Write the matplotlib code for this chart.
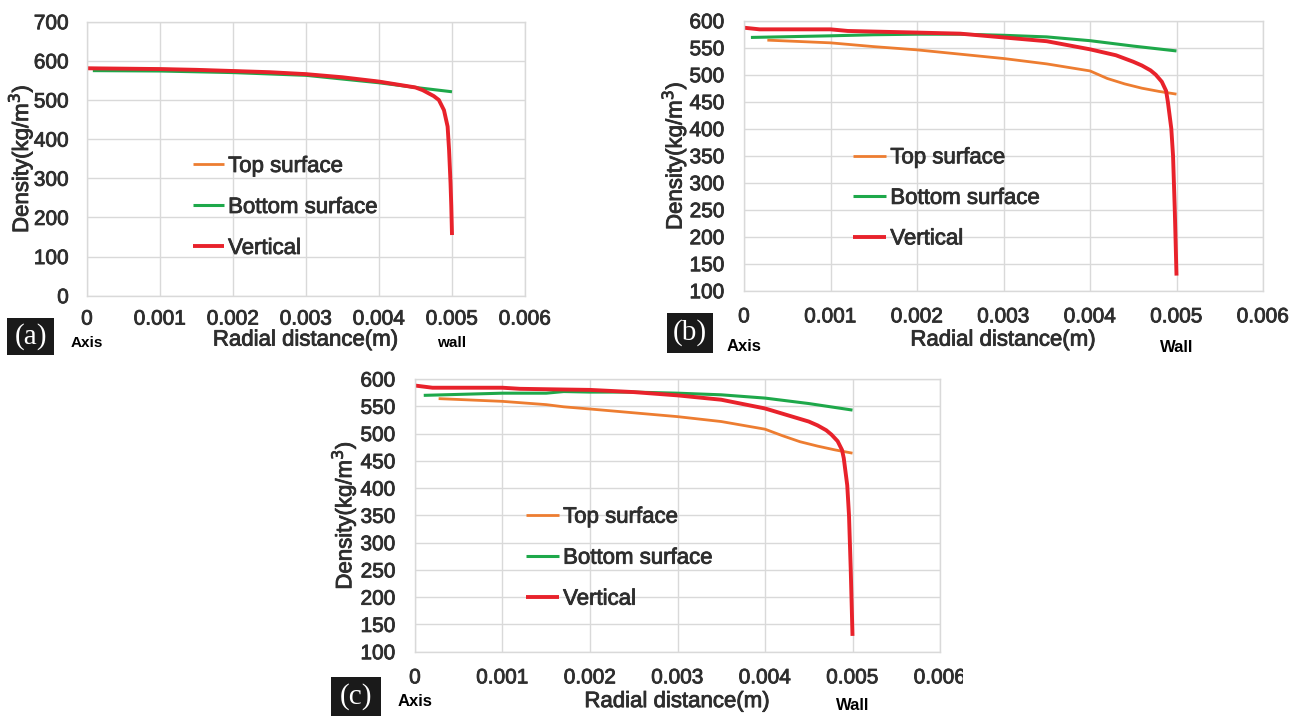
import matplotlib
matplotlib.use("Agg")
import matplotlib.pyplot as plt
import matplotlib.patheffects as pe
from matplotlib.patches import Rectangle
from matplotlib.transforms import blended_transform_factory

plt.rcParams['font.family'] = ['Liberation Sans', 'DejaVu Sans']

# ---------------- data ----------------
# Panel (a)
a_red_x = [0.0, 0.0005, 0.001, 0.0015, 0.002, 0.0025, 0.003, 0.0035, 0.004, 0.0045,
           0.0046, 0.00475, 0.00482, 0.00489, 0.00494, 0.00496, 0.00498, 0.00499, 0.005]
a_red_y = [581, 580, 579, 577, 574, 571, 566, 558, 547, 532,
           525, 510, 500, 474, 432, 372, 287, 230, 155]
a_top_x = [0.0, 0.001, 0.002, 0.003, 0.004, 0.0045]
a_top_y = [581, 579, 574, 566, 547, 532]
a_bot_x = [0.00008, 0.001, 0.002, 0.003, 0.004, 0.0045, 0.005]
a_bot_y = [575, 574, 570, 563, 544, 532, 521]

# Panel (b)
b_red_x = [0.0, 0.00018, 0.001, 0.0012, 0.002, 0.0025, 0.003, 0.0035, 0.004, 0.0043,
           0.0045, 0.0046, 0.0047, 0.00476, 0.00483, 0.00488, 0.0049, 0.00494, 0.00496,
           0.00497, 0.00498, 0.00499, 0.005]
b_red_y = [587, 584, 584, 581, 578, 576, 569, 562, 547, 536,
           524, 517, 508, 500, 487, 470, 450, 400, 350,
           300, 250, 190, 128]
b_bot_x = [0.00008, 0.001, 0.0015, 0.002, 0.0025, 0.003, 0.0035, 0.004, 0.0045, 0.005]
b_bot_y = [569, 572, 574, 575, 575, 573, 570, 563, 553, 544]
b_top_x = [0.00027, 0.001, 0.0015, 0.002, 0.0025, 0.003, 0.0035, 0.004, 0.0042,
           0.0044, 0.0046, 0.0048, 0.005]
b_top_y = [564, 559, 552, 546, 538, 530, 520, 507, 493, 483, 475, 469, 464]

# Panel (c)
c_red_x = [0.0, 0.0002, 0.001, 0.0012, 0.002, 0.0025, 0.003, 0.0035, 0.004, 0.0045,
           0.0046, 0.0047, 0.00476, 0.00483, 0.00488, 0.0049, 0.00494, 0.00496,
           0.00497, 0.00498, 0.00499, 0.005]
c_red_y = [588, 584, 584, 582, 580, 576, 570, 562, 546, 522,
           515, 506, 498, 486, 470, 455, 405, 350,
           300, 250, 190, 129]
c_bot_x = [0.0001, 0.001, 0.0015, 0.0017, 0.002, 0.0025, 0.003, 0.0035, 0.004, 0.0045, 0.005]
c_bot_y = [570, 574, 574, 577, 576, 576, 574, 571, 565, 555, 543]
c_top_x = [0.00027, 0.001, 0.0015, 0.0017, 0.002, 0.0025, 0.003, 0.0035, 0.004, 0.0042,
           0.0044, 0.0046, 0.0048, 0.005]
c_top_y = [564, 559, 553, 549, 545, 538, 531, 522, 508, 496, 485, 477, 470, 464]

x_ticks = [0, 0.001, 0.002, 0.003, 0.004, 0.005, 0.006]
x_tick_labels = ['0', '0.001', '0.002', '0.003', '0.004', '0.005', '0.006']
a_y_ticks = [0, 100, 200, 300, 400, 500, 600, 700]
bc_y_ticks = [100, 150, 200, 250, 300, 350, 400, 450, 500, 550, 600]
series_labels = ['Top surface', 'Bottom surface', 'Vertical']
panel_tags = ['(a)', '(b)', '(c)']

# ---------------- styling ----------------
ORANGE = '#ED7D31'
GREEN = '#1EA84A'
RED = '#E8222B'
GRID = '#D9D9D9'
TXT = '#2E2E2E'
HEAVY = [pe.withStroke(linewidth=0.6, foreground=TXT)]

W, H = 1306, 716
fig = plt.figure(figsize=(W / 100, H / 100), dpi=100)


def px_axes(l, t, r, b):
    return fig.add_axes([l / W, 1 - b / H, (r - l) / W, (b - t) / H])


def style(ax, yticks, ylim, xpad, ypad, ylab_x, xlab_y, leg_xy, lsp, hlen,
          wall_lbl, axis_y, wall_y, small_fs):
    ax.set_xlim(0, 0.006)
    ax.set_ylim(*ylim)
    ax.set_xticks(x_ticks)
    ax.set_xticklabels(x_tick_labels)
    ax.set_yticks(yticks)
    ax.tick_params(axis='both', length=0, labelsize=15, colors=TXT)
    ax.tick_params(axis='y', pad=ypad)
    ax.tick_params(axis='x', pad=xpad)
    for lab in ax.get_xticklabels() + ax.get_yticklabels():
        lab.set_path_effects(HEAVY)
    ax.grid(True, color=GRID, lw=1.0)
    ax.set_axisbelow(True)
    for s in ax.spines.values():
        s.set_color(GRID)
        s.set_linewidth(1.0)
    ax.set_ylabel('Density(kg/m$^3$)', fontsize=16, color=TXT, va='center', ha='center',
                  path_effects=HEAVY)
    ax.yaxis.set_label_coords(ylab_x, 0.5)
    ax.set_xlabel('Radial distance(m)', fontsize=16, color=TXT, va='center', ha='center',
                  path_effects=HEAVY)
    ax.xaxis.set_label_coords(0.5, xlab_y)
    leg = ax.legend(loc='center left', bbox_to_anchor=leg_xy, frameon=False,
                    fontsize=16, handlelength=hlen, handletextpad=0.18,
                    labelspacing=lsp, borderpad=0, borderaxespad=0)
    for t in leg.get_texts():
        t.set_color(TXT)
        t.set_path_effects(HEAVY)
    tr = blended_transform_factory(ax.transData, ax.transAxes)
    ax.text(0.0, axis_y, 'Axis', transform=tr, ha='center', va='center',
            fontsize=small_fs, fontweight='bold', color='black')
    ax.text(0.005, wall_y, wall_lbl, transform=tr, ha='center', va='center',
            fontsize=small_fs, fontweight='bold', color='black')


def tag(text, l, t, r, b):
    fig.patches.append(Rectangle((l / W, 1 - b / H), (r - l) / W, (b - t) / H,
                                 transform=fig.transFigure, facecolor='#1a1a1a',
                                 edgecolor='none', zorder=5))
    fig.text((l + r) / 2 / W, 1 - (t + b) / 2 / H, text, ha='center', va='center',
             color='white', fontsize=21, family=['Liberation Serif', 'DejaVu Serif'],
             zorder=6)


def draw(ax, tx, ty, bx, by, rx, ry):
    ax.plot(tx, ty, color=ORANGE, lw=2.0, label=series_labels[0], solid_capstyle='butt')
    ax.plot(bx, by, color=GREEN, lw=2.2, label=series_labels[1], solid_capstyle='butt')
    ax.plot(rx, ry, color=RED, lw=2.8, label=series_labels[2], solid_capstyle='butt')


# Panel (a)
ax_a = px_axes(87, 21.7, 525, 295.7)
draw(ax_a, a_top_x, a_top_y, a_bot_x, a_bot_y, a_red_x, a_red_y)
style(ax_a, a_y_ticks, (0, 700), 10, 13, -0.151, -0.162, (0.242, 0.322), 0.9, 1.4,
      'wall', -0.173, -0.173, 11)

# Panel (b)
ax_b = px_axes(744, 20.7, 1263, 290.7)
draw(ax_b, b_top_x, b_top_y, b_bot_x, b_bot_y, b_red_x, b_red_y)
style(ax_b, bc_y_ticks, (100, 600), 12, 14, -0.134, -0.183, (0.210, 0.342), 0.88, 1.5,
      'Wall', -0.207, -0.211, 12)

# Panel (c)
ax_c = px_axes(415, 379, 940, 651.7)
draw(ax_c, c_top_x, c_top_y, c_bot_x, c_bot_y, c_red_x, c_red_y)
style(ax_c, bc_y_ticks, (100, 600), 12, 14, -0.135, -0.183, (0.211, 0.343), 0.9, 1.5,
      'Wall', -0.183, -0.198, 12)

# panel tags
tag(panel_tags[0], 7, 318, 54, 355)
tag(panel_tags[1], 667, 313, 713, 353)
tag(panel_tags[2], 331, 677, 381, 716)

# the reference image of panel (c) is cropped at its right edge
fig.patches.append(Rectangle((963 / W, 1 - 700 / H), 60 / W, 45 / H,
                             transform=fig.transFigure, facecolor='white',
                             edgecolor='none', zorder=4))

fig.savefig('out.png', dpi=100)
